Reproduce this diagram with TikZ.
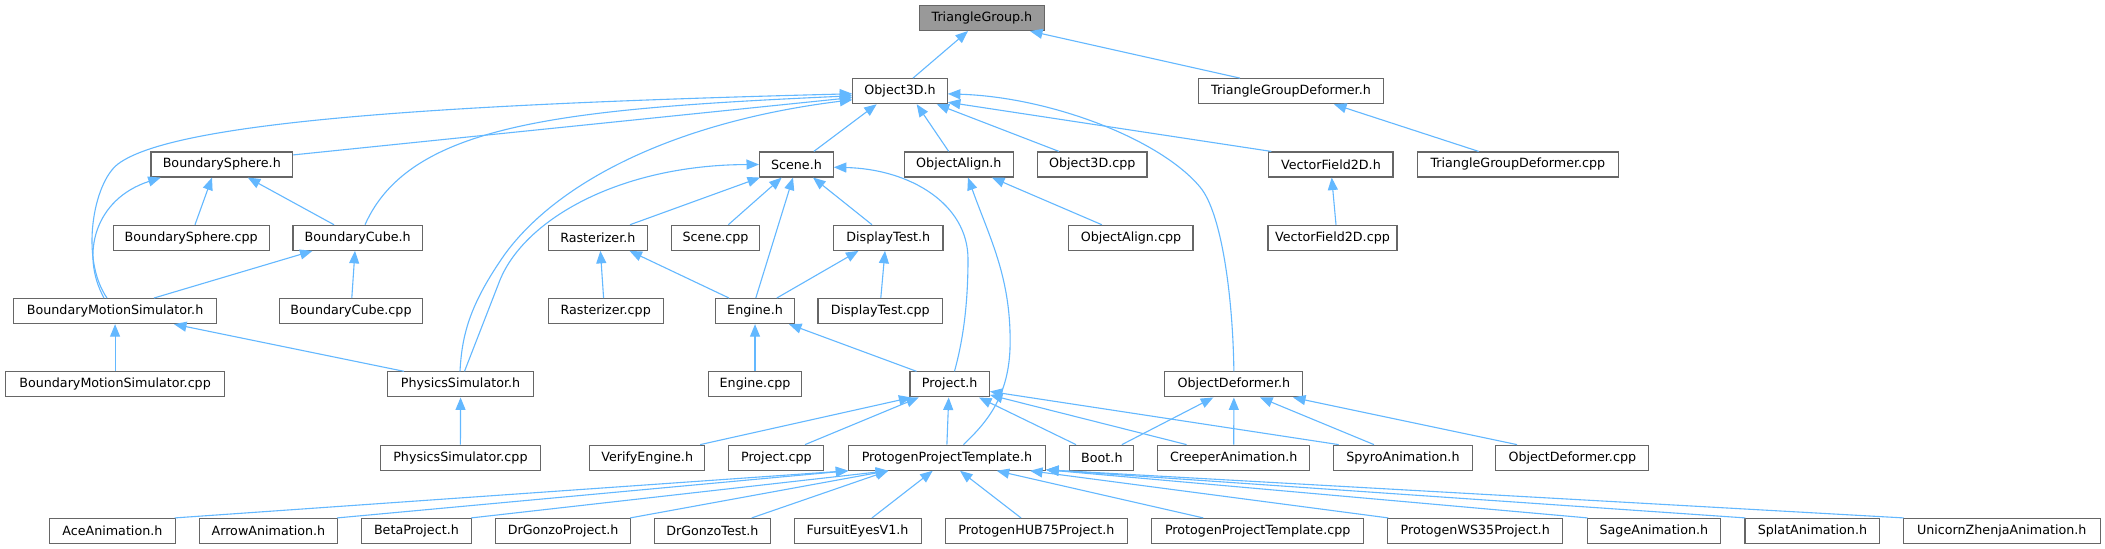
\documentclass[tikz,border=0pt]{standalone}
\usepackage{fontspec}
\setmainfont{DejaVu Sans}
\usetikzlibrary{arrows.meta}
\definecolor{edgeblue}{HTML}{63B8FF}
\definecolor{bordergray}{HTML}{666666}
\definecolor{rootfill}{HTML}{999999}
\begin{document}
\begin{tikzpicture}[x=1pt,y=1pt,
 box/.style={draw=bordergray, fill=white, line width=1.15pt, anchor=west, minimum height=25pt, inner sep=0pt, font=\fontsize{12.7}{14}\selectfont},
 dep/.style={draw=edgeblue, line width=1.1pt, {Triangle[length=12.5pt,width=10pt]}-}]
\useasboundingbox[fill=white] (0,0) rectangle (2105,549);
% row 0
\node[box,fill=rootfill,minimum width=125.3pt] (tg) at (918.7,531) {TriangleGroup.h};
% row 1
\node[box,minimum width=94.4pt] (o3d) at (852.3,457.8) {Object3D.h};
\node[box,minimum width=185.2pt] (tgd) at (1197.8,457.8) {TriangleGroupDeformer.h};
% row 2
\node[box,minimum width=141.6pt] (bs) at (150.4,384.5) {BoundarySphere.h};
\node[box,minimum width=73.7pt] (scene) at (759,384.5) {Scene.h};
\node[box,minimum width=109.4pt] (oa) at (903.6,384.5) {ObjectAlign.h};
\node[box,minimum width=109.4pt] (o3dcpp) at (1037,384.5) {Object3D.cpp};
\node[box,minimum width=124.1pt] (vf) at (1268.3,384.5) {VectorField2D.h};
\node[box,minimum width=200.6pt] (tgdcpp) at (1417,384.5) {TriangleGroupDeformer.cpp};
% row 3
\node[box,minimum width=156.3pt] (bscpp) at (112.5,311.2) {BoundarySphere.cpp};
\node[box,minimum width=129.5pt] (bc) at (292.4,311.2) {BoundaryCube.h};
\node[box,minimum width=98.9pt] (rast) at (547.8,311.2) {Rasterizer.h};
\node[box,minimum width=88pt] (scenecpp) at (671,311.2) {Scene.cpp};
\node[box,minimum width=109.4pt] (dt) at (833,311.2) {DisplayTest.h};
\node[box,minimum width=124.1pt] (oacpp) at (1068.3,311.2) {ObjectAlign.cpp};
\node[box,minimum width=129pt] (vfcpp) at (1267.4,311.2) {VectorField2D.cpp};
% row 4
\node[box,minimum width=203pt] (bms) at (13,237.9) {BoundaryMotionSimulator.h};
\node[box,minimum width=143.7pt] (bccpp) at (278.6,237.9) {BoundaryCube.cpp};
\node[box,minimum width=114.7pt] (rastcpp) at (547.8,237.9) {Rasterizer.cpp};
\node[box,minimum width=79.5pt] (eng) at (714.7,237.9) {Engine.h};
\node[box,minimum width=124.6pt] (dtcpp) at (817.4,237.9) {DisplayTest.cpp};
% row 5
\node[box,minimum width=219pt] (bmscpp) at (5,164.6) {BoundaryMotionSimulator.cpp};
\node[box,minimum width=146pt] (ps) at (387,164.6) {PhysicsSimulator.h};
\node[box,minimum width=93.7pt] (engcpp) at (707.6,164.6) {Engine.cpp};
\node[box,minimum width=79.4pt] (proj) at (909.4,164.6) {Project.h};
\node[box,minimum width=138pt] (od) at (1164.3,164.6) {ObjectDeformer.h};
% row 6
\node[box,minimum width=160.7pt] (pscpp) at (379.5,91.3) {PhysicsSimulator.cpp};
\node[box,minimum width=114.7pt] (ve) at (589.3,91.3) {VerifyEngine.h};
\node[box,minimum width=95pt] (projcpp) at (728.3,91.3) {Project.cpp};
\node[box,minimum width=197.3pt] (ppt) at (847.7,91.3) {ProtogenProjectTemplate.h};
\node[box,minimum width=64pt] (boot) at (1069.3,91.3) {Boot.h};
\node[box,minimum width=151.7pt] (creeper) at (1157.3,91.3) {CreeperAnimation.h};
\node[box,minimum width=139.3pt] (spyro) at (1332.7,91.3) {SpyroAnimation.h};
\node[box,minimum width=152.9pt] (odcpp) at (1495.3,91.3) {ObjectDeformer.cpp};
% row 7
\node[box,minimum width=125.6pt] (ace) at (49,18) {AceAnimation.h};
\node[box,minimum width=138.3pt] (arrow) at (198.7,18) {ArrowAnimation.h};
\node[box,minimum width=110.3pt] (beta) at (360.7,18) {BetaProject.h};
\node[box,minimum width=135pt] (dgp) at (495,18) {DrGonzoProject.h};
\node[box,minimum width=116.4pt] (dgt) at (653.6,18) {DrGonzoTest.h};
\node[box,minimum width=127pt] (fe) at (793.5,18) {FursuitEyesV1.h};
\node[box,minimum width=182.6pt] (hub) at (944.6,18) {ProtogenHUB75Project.h};
\node[box,minimum width=212.3pt] (pptcpp) at (1151,18) {ProtogenProjectTemplate.cpp};
\node[box,minimum width=174.7pt] (ws35) at (1387.3,18) {ProtogenWS35Project.h};
\node[box,minimum width=133.4pt] (sage) at (1586.6,18) {SageAnimation.h};
\node[box,minimum width=134.9pt] (splat) at (1744.4,18) {SplatAnimation.h};
\node[box,minimum width=196.9pt] (uni) at (1902.7,18) {UnicornZhenjaAnimation.h};

% edges
\draw[dep] ([xshift=49.3]tg.south west) -- ([xshift=60.7]o3d.north west);
\draw[dep] ([xshift=111.3]tg.south west) -- ([xshift=42.2]tgd.north west);
\draw[dep] ([xshift=136.2]tgd.south west) -- ([xshift=61.7]tgdcpp.north west);
\draw[dep] ([yshift=6.7]o3d.south west) -- ([yshift=-3.5]bs.north east);
\draw[dep] ([yshift=8.5]o3d.south west) .. controls (560,440) and (410,425) .. ([xshift=72.6]bc.north west);
\draw[dep] ([yshift=10.5]o3d.south west) .. controls (450,445) and (175,428) .. (118,385) .. controls (93,366) and (80,290) .. ([xshift=94]bms.north west);
\draw[dep] ([xshift=10.3]bs.south west) .. controls (95,350) and (80,295) .. ([xshift=91]bms.north west);
\draw[dep] ([yshift=4.5]o3d.south west) .. controls (680,428) and (560,370) .. (505,295) .. controls (470,245) and (462,215) .. ([xshift=73]ps.north west);
\draw[dep] (scene.west) .. controls (620,384) and (525,330) .. (500,269) -- ([xshift=77.5]ps.north west);
\draw[dep] ([xshift=24.4]o3d.south west) -- ([xshift=54.8]scene.north west);
\draw[dep] ([xshift=64.4]o3d.south west) -- ([xshift=45.1]oa.north west);
\draw[dep] ([xshift=84.4]o3d.south west) -- ([xshift=22]o3dcpp.north west);
\draw[dep] ([yshift=2]o3d.south east) -- ([xshift=3]vf.north west);
\draw[dep] ([yshift=10.4]o3d.south east) .. controls (1050,452) and (1160,410) .. (1200,362) .. controls (1222,336) and (1233,250) .. (od.north);
\draw[dep] ([xshift=1]scene.south west) -- ([xshift=82.2]rast.north west);
\draw[dep] ([xshift=22.7]scene.south west) -- ([xshift=57.3]scenecpp.north west);
\draw[dep] ([xshift=34]scene.south west) -- ([xshift=41.1]eng.north west);
\draw[dep] ([xshift=54]scene.south west) -- ([xshift=39]dt.north west);
\draw[dep] ([yshift=10.3]scene.south east) .. controls (910,380) and (968,345) .. (968,290) .. controls (968,240) and (962,205) .. ([xshift=45.1]proj.north west);
\draw[dep] ([xshift=88.4]oa.south west) -- ([xshift=33.5]oacpp.north west);
\draw[dep] ([xshift=64.4]oa.south west) .. controls (990,310) and (1012,270) .. (1010,200) .. controls (1008,150) and (985,125) .. ([xshift=115.7]ppt.north west);
\draw[dep] ([xshift=63.4]vf.south west) -- ([xshift=68.6]vfcpp.north west);
\draw[dep] ([xshift=61.6]bs.south west) -- ([xshift=82.5]bscpp.north west);
\draw[dep] ([xshift=97.4]bs.south west) -- ([xshift=41.6]bc.north west);
\draw[dep] ([xshift=20.1]bc.south west) -- ([xshift=141]bms.north west);
\draw[dep] ([xshift=62.6]bc.south west) -- ([xshift=73.2]bccpp.north west);
\draw[dep] ([xshift=52.6]rast.south west) -- ([xshift=55.8]rastcpp.north west);
\draw[dep] ([xshift=81.7]rast.south west) -- ([xshift=14.3]eng.north west);
\draw[dep] ([xshift=25.5]dt.south west) -- ([xshift=62.1]eng.north west);
\draw[dep] ([xshift=52]dt.south west) -- ([xshift=63.4]dtcpp.north west);
\draw[dep] (eng.south) -- (engcpp.north);
\draw[dep] ([xshift=74.3]eng.south west) -- ([xshift=7.1]proj.north west);
\draw[dep] (bms.south) -- (bmscpp.north);
\draw[dep] ([xshift=161]bms.south west) -- ([xshift=17]ps.north west);
\draw[dep] (ps.south) -- (pscpp.north);
\draw[dep] ([xshift=2]proj.south west) -- ([xshift=-5]ve.north east);
\draw[dep] ([xshift=9.35]proj.south west) -- ([xshift=76.7]projcpp.north west);
\draw[dep] ([xshift=39.3]proj.south west) -- ([xshift=99.2]ppt.north west);
\draw[dep] ([xshift=69.6]proj.south west) -- ([xshift=6.7]boot.north west);
\draw[dep] ([yshift=2.5]proj.south east) -- ([xshift=29.3]creeper.north west);
\draw[dep] ([yshift=6]proj.south east) -- ([xshift=6]spyro.north west);
\draw[dep] ([xshift=49]od.south west) -- ([xshift=52.6]boot.north west);
\draw[dep] (od.south) -- (creeper.north);
\draw[dep] ([xshift=95.7]od.south west) -- ([xshift=41.3]spyro.north west);
\draw[dep] ([xshift=128.7]od.south west) -- ([xshift=21.7]odcpp.north west);
\draw[dep] ([xshift=0.6]ppt.south west) -- ([xshift=-1]ace.north east);
\draw[dep] ([xshift=0.6]ppt.south west) -- ([xshift=-1]arrow.north east);
\draw[dep] ([xshift=40.6]ppt.south west) -- ([xshift=-1]beta.north east);
\draw[dep] ([xshift=40.6]ppt.south west) -- ([xshift=-1]dgp.north east);
\draw[dep] ([xshift=40.6]ppt.south west) -- ([xshift=98.1]dgt.north west);
\draw[dep] ([xshift=85]ppt.south west) -- ([xshift=78.5]fe.north west);
\draw[dep] ([xshift=112.3]ppt.south west) -- ([xshift=76.4]hub.north west);
\draw[dep] ([xshift=149]ppt.south west) -- ([xshift=52.3]pptcpp.north west);
\draw[dep] ([xshift=182.3]ppt.south west) -- ([xshift=1]ws35.north west);
\draw[dep] ([yshift=1]ppt.south east) -- ([xshift=1]sage.north west);
\draw[dep] ([yshift=1]ppt.south east) -- ([xshift=1]splat.north west);
\draw[dep] ([yshift=1]ppt.south east) -- ([xshift=1]uni.north west);
\end{tikzpicture}
\end{document}
